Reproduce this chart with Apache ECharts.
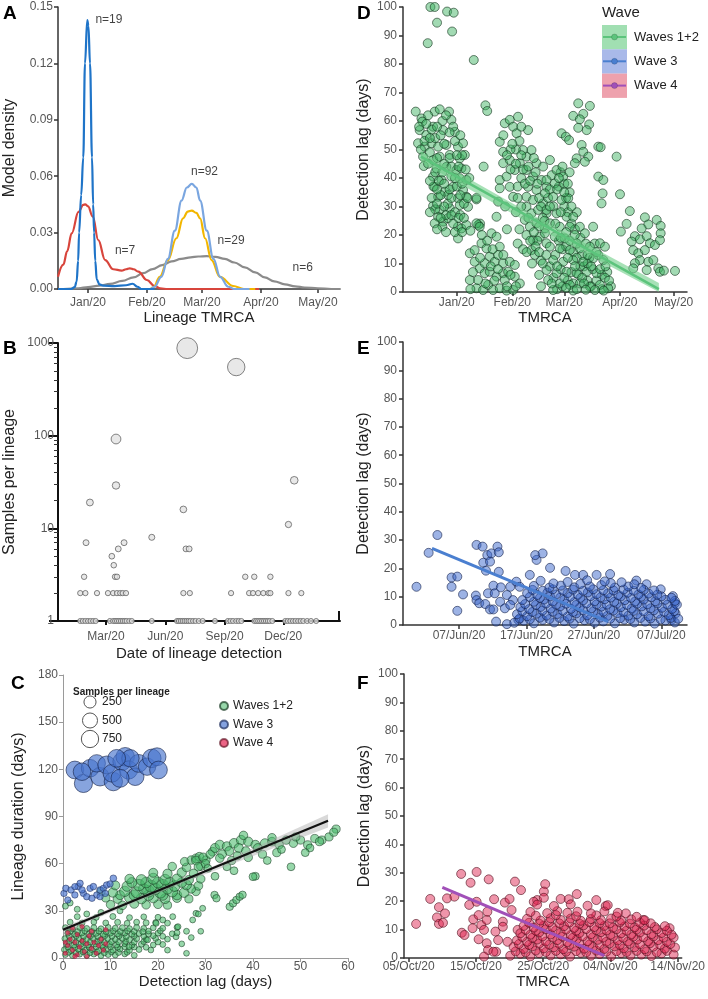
<!DOCTYPE html>
<html><head><meta charset="utf-8">
<script src="https://cdn.jsdelivr.net/npm/echarts@6/dist/echarts.min.js"></script>
<style>html,body{margin:0;padding:0;background:#fff}#c{width:708px;height:999px}</style>
</head><body><div id="c"></div>
<script>
const FONT = 'Liberation Sans, Arial, Helvetica, sans-serif';

// ---------------- Panel A : model density vs lineage TMRCA (days since 1 Jan 2020)
const densTickDays = [0, 31, 60, 91, 121];
const densTickLabels = ['Jan/20', 'Feb/20', 'Mar/20', 'Apr/20', 'May/20'];
const densBlue = [[-15.8,0],[-9,0],[-7,0.001],[-6,0.004],[-5.2,0.015],[-4.7,0.03],[-3.6,0.05],[-2.5,0.07],[-1.6,0.12],[-0.4,0.143],[0.2,0.14],[1.05,0.12],[2.1,0.07],[2.7,0.045],[3.2,0.03],[3.8,0.015],[4.6,0.005],[6,0.0025],[8,0.0018],[14,0.0015],[20,0.002],[23.5,0.0028],[26,0.0012],[28,0],[35,0]];
const densRed = [[-15.8,0.0065],[-13,0.013],[-11,0.02],[-8.6,0.0296],[-5,0.041],[-2.5,0.0448],[-1.5,0.045],[0,0.044],[2.5,0.0385],[5.4,0.026],[9,0.0154],[13.3,0.0105],[17.7,0.0098],[20,0.0105],[22,0.011],[24,0.0105],[26.5,0.0092],[31,0.0048],[35,0.0016],[38,0.0003],[42,0],[90,0]];
const densYellow = [[33,0],[34.5,0.001],[37.8,0.0065],[42,0.0154],[46.5,0.027],[50,0.0376],[52.5,0.0412],[54.6,0.0417],[57,0.0405],[59,0.0376],[61.6,0.027],[65,0.0154],[69.4,0.0065],[76.4,0.0016],[82,0],[88,0]];
const densLightBlue = [[33,0],[35,0.0012],[38.6,0.0065],[42,0.016],[45.7,0.031],[49.2,0.047],[52,0.054],[54.6,0.0559],[57,0.054],[59,0.047],[62.5,0.031],[66,0.016],[69.5,0.0065],[73.8,0.0012],[77,0],[85,0]];
const densGray = [[-13,0],[-5,0.0004],[0,0.001],[6,0.0018],[11.6,0.0027],[18,0.0043],[23.9,0.0062],[29,0.0084],[34,0.0106],[39,0.0127],[44,0.0147],[49,0.016],[54,0.0168],[58,0.0173],[62.5,0.0175],[67,0.0171],[72,0.016],[77,0.0141],[82.5,0.0115],[88,0.0088],[93,0.0062],[98,0.0041],[103.6,0.0025],[109,0.0014],[114,0.0008],[121,0.0003],[128,0],[132.6,0]];
const densNotes = [[11,0.1435,'n=19'],[61.3,0.0624,'n=92'],[19.5,0.0204,'n=7'],[75.3,0.0257,'n=29'],[113,0.0112,'n=6']];

// ---------------- Panel B : samples per lineage vs date of detection (days since 1 Jan 2020)
const detTickDays = [60, 152, 244, 335];
const detTickLabels = ['Mar/20', 'Jun/20', 'Sep/20', 'Dec/20'];
const detAxisEnd = 423;
const sampleTicks = [1, 10, 100, 1000];
const sampleMinorTicks = [2,3,4,5,6,7,8,9,20,30,40,50,60,70,80,90,200,300,400,500,600,700,800,900];
const lineageDetect = [
 [186,880],[262,550],[75.5,92],[75.5,29],[35,19],[29,7],[26,3],[20,2],[28,2],[46,2],
 [20,1],[24,1],[28,1],[32,1],[36,1],[40,1],[44,1],
 [69,5],[72,4],[74,3],[77,3],[79,6],[88,7],[63,2],[71,2],[77,2],[82,2],[86,2],[91,2],
 [66,1],[71,1],[74,1],[77,1],[80,1],[83,1],[86,1],[89,1],[92,1],[96,1],[100,1],
 [131,8],[131,1],
 [180,16],[184,6],[189,6],[180,2],[190,2],
 [170,1],[173,1],[176,1],[179,1],[182,1],[185,1],[188,1],[191,1],[195,1],[199,1],[204,1],[210,1],[229,1],
 [254,2],[249,1],[253,1],[257,1],[262,1],[266,1],[270,1],
 [276,3],[290,3],[315,3],[282,2],[288,2],[296,2],[304,2],[312,2],[315,2],
 [290,1],[293,1],[296,1],[299,1],[302,1],[305,1],[308,1],[311,1],[314,1],[318,1],
 [352,33],[343,11],[343,2],[363,2],
 [338,1],[342,1],[346,1],[350,1],[354,1],[358,1],[362,1],[366,1],[372,1],[378,1],[386,1]
];

// ---------------- Panel C : lineage duration vs detection lag  [lag, duration, samples]
const lagDurW12 = [
 [0.5,2.2,4],[2,1.6,5],[3.5,2.4,3],[5,1.8,6],[6.5,2.5,4],[8,1.5,3],[9.5,2.2,5],[11,1.9,4],[13,2.6,3],[15,1.7,4],
 [1.2,3.6,4],[2.7,3.3,5],[4.2,3.9,3],[5.7,3.4,4],[7.2,3.7,5],[8.7,3.3,4],[10.2,3.8,3],[11.7,3.5,4],[13.5,3.6,3],
 [0.3,5.3,4],[1.7,4.8,6],[3.2,5.6,3],[4.6,4.9,5],[6,5.4,4],[7.5,4.7,6],[9,5.5,3],[10.5,5,4],[12,5.7,5],[14,4.8,3],[16,5.4,4],[18.5,5.1,3],
 [1,7,4],[2.5,6.8,5],[4,7.3,3],[5.5,6.9,4],[7,7.2,5],[8.5,6.7,4],[10,7.1,3],[11.5,6.9,4],[13,7.2,5],[15,7,4],[17.5,6.8,3],
 [0.8,8.8,5],[2.3,8.2,4],[3.8,9,6],[5.3,8.3,4],[6.8,8.9,3],[8.3,8.1,5],[9.8,8.7,4],[11.3,8.4,6],[13,9.1,3],[14.5,8.2,4],[16.5,8.8,5],[19,8.3,3],[21,8.6,4],
 [1.2,10.4,4],[2.7,10.1,5],[4.2,10.6,3],[5.7,10.2,4],[7.2,10.5,5],[8.7,10,4],[10.2,10.4,3],[11.7,10.2,4],[13.2,10.6,5],[15,10.1,4],[17,10.4,3],[20,10.2,4],
 [0.4,12.3,4],[1.9,11.7,5],[3.4,12.5,3],[4.9,11.8,6],[6.4,12.2,4],[7.9,11.6,5],[9.4,12.4,3],[11,11.9,4],[12.5,12.6,6],[14,11.7,4],[15.5,12.3,5],[17.5,11.8,3],[19.5,12.5,4],[22,12,3],
 [1.3,13.9,4],[2.8,14.2,5],[4.3,13.7,3],[5.8,14.1,4],[7.3,13.8,5],[8.8,14.2,4],[10.3,13.9,3],[11.8,14.1,4],[13.3,13.7,5],[15,14.1,4],[17,13.9,3],[19,14.2,4],[21,13.8,3],
 [1,15.8,5],[2.5,15.2,4],[4,15.9,3],[5.5,15.3,6],[7,15.7,4],[8.5,15.1,5],[10,15.8,3],[11.5,15.4,4],[13,15.9,5],[14.5,15.2,3],[16,15.6,4],[18,15.3,5],[20,15.8,3],[23,15.4,4],
 [1.6,17.2,4],[3.1,16.8,5],[4.6,17.3,3],[6.1,16.9,4],[7.6,17.1,5],[9.1,16.7,4],[10.6,17.2,3],[12.1,16.9,4],[13.6,17.3,5],[15,16.9,4],[18,17.1,3],[20.5,17.3,4],
 [0.5,19.3,4],[2,18.7,5],[3.5,19.4,3],[5,18.8,4],[6.5,19.2,6],[8,18.6,4],[9.5,19.5,3],[11,18.9,5],[12.5,19.3,4],[14,18.7,3],[15.5,19.4,5],[17,18.8,4],[19,19.2,3],[21,18.9,4],[24,19.5,3],
 [1.5,22.8,4],[4,22.2,5],[6.5,22.9,3],[9,22.3,4],[11.5,22.7,5],[13.5,22.1,3],[15.5,22.8,4],[17.5,22.4,5],[19.5,22.6,3],[22,22.2,4],
 [3,26.3,4],[7,25.8,3],[10.5,26.4,5],[14,25.7,4],[17,26.2,3],[20,25.9,4],
 [13.9,7.2,4],[16.8,16.7,5],[17.8,11.5,4],[19.6,22.1,6],[21,24.2,5],[23.1,26.3,4],[23.8,13.5,4],[24.2,19.9,5],[27.3,24.2,4],[28,28.4,5],[29.4,31.6,5],[27,13,3],[25,9,3],[22,5,3],[29,17,3],[26,3,3],[0.5,33,6],[1.5,35,5],[3,31,5],[24,16,4],[26,17,4],[28.5,28,4],[5,28,4],[8,29,4],[12,30,5],
 [10,34,60],[12.5,33.5,70],[15,34.5,80],[17.5,33.8,60],[20,34.2,70],[22,33.6,50],
 [9,38.2,50],[11.5,37.6,80],[14,38.4,120],[16.5,37.8,150],[19,38.3,130],[21.5,37.7,110],[24,38.2,80],[26.5,37.6,50],
 [12,40,80],[15,40,140],[18,40,160],[21,40,140],[24,40,100],
 [8,42.3,60],[10.5,41.6,90],[13,42.4,140],[15.5,41.8,180],[18,42.5,220],[20.5,41.7,200],[23,42.2,160],[25.5,41.6,110],[28,42.3,60],
 [17,44,150],[19.5,44,180],[22,44,150],[27,44,70],
 [11,46.2,80],[13.5,45.6,130],[16,46.4,200],[18.5,45.7,240],[21,46.3,220],[23.5,45.8,170],[26,46.5,120],[28.5,45.9,70],
 [14.5,48,120],[17.5,48,160],[20,48,180],[22.5,48,150],[25,48,110],
 [14,50.3,90],[16.5,49.7,150],[19,50.4,180],[21.5,49.8,160],[24,50.2,130],[26.5,49.6,90],[29,50.3,60],
 [19,54.2,80],[22,53.6,90],[25,54.4,90],[27.5,53.8,70],[23,58.2,60],[26,57.6,70],[29,58.3,60],
 [25.6,61.3,60],[27,62.3,60],[28,63.4,70],[28.7,64.4,70],[30.1,62.3,60],[31.5,67.6,70],[32,52,40],[31.9,40.1,30],[32.3,38,30],
 [28,62,70],[29.5,64,70],[31,66,60],[28.5,58,60],[30,60,60],[32,70,80],[33,72,90],[34.5,71,90],[36,73,100],[37.5,75,100],[39,74,90],[40.5,72,80],[35,68,80],[33.5,66,70],[37,70,80],[38.5,68,70],[41,70,70],[42.5,73,80],[44,74,70],[45.5,72,60],[47,75,60],[48.5,73,60],[50,75,50],[51.5,72,50],[53,76,50],[54.5,75,50],[56,77,50],[57.5,82,50],[57,80,50],[52,70,40],[51,67,40],[48,58,40],[40.5,52,40],[35.5,62,50],[39,64,60],[42,66,50],[45,67,50],[43,62,40],[36,55.5,40],[34.5,58,40],[30.5,57,40],[33,63.5,60],[38,78,60],[44,76.5,60],[49,77,50],[54,74,50],[46,69,40],[36.7,65,50],
 [35.1,32.6,30],[35.8,34.8,30],[36.5,36.9,30],[37.2,39,30],[37.8,40.2,30],[40,51.7,40]
];
const lagDurW3 = [[0.2,41.1,10],[0.6,44.3,12],[1,36.9,9],[1.7,43.3,11],[2.5,40.1,10],[3.2,45.4,12],[3.6,47.5,10],[4.3,41.1,9],[5,39,11],[5.7,44.3,10],[6.4,45.4,12],[7.1,40.1,9],[7.8,43.3,11],[8.5,44.3,10],[9.2,46.4,12],[9.9,47.1,10],[10.6,50.7,14],[7.8,39,9],[6.1,38,10],[2.5,45.4,9],[4,43.3,11],[8.9,41.1,10]];
const lagDurW3big = [[2.5,119.6,800],[4.3,111,850],[5.7,120.7,780],[7.8,115.3,900],[7.1,123.8,760],[9.2,122.8,820],[10.6,112.2,880],[10.3,117.5,800],[12.4,124.9,840],[13.1,128,900],[13.8,119.6,860],[15.2,115.3,780],[15.9,123.8,820],[17.7,121.7,760],[18.7,127,900],[19.8,128,820],[20.1,119.6,800],[12,114.3,840],[4,118.5,780],[14.2,127,760],[11.3,127,800]];
const lagDurW4 = [[0.5,3,2],[1,8,2],[1.5,12,2],[2,5,2],[2.5,10,2],[3,15,2],[3,2,2],[3.5,7,2],[4,11,2],[4.5,4,2],[5,9,2],[5.5,14,2],[6,6,2],[6.5,10,2],[7,3,2],[7.5,8,2],[8,12,2],[8.5,5,2],[9,18,2],[1,16,2],[2,19,2],[4,20,2],[6,17,2],[9,9,2],[0.5,10,2],[2.5,1,2],[5,1,2]];
const fitC = [[0, 18], [55.8, 87.3]];
const ciUpperC = [[0, 19.5], [28, 53.5], [55.8, 91.5]];
const ciLowerC = [[0, 16.5], [28, 51], [55.8, 83]];
const sizeLegendValues = [250, 500, 750];
const waveNames = ['Waves 1+2', 'Wave 3', 'Wave 4'];

// ---------------- Panel D : detection lag vs TMRCA, waves 1+2 (days since 1 Jan 2020)
const tmrcaTickD = [0, 31, 60, 91, 121];
const tmrcaLabelsD = ['Jan/20', 'Feb/20', 'Mar/20', 'Apr/20', 'May/20'];
const lagW12 = [
 [-22.9,63.3],[-19.7,60.9],[-19.2,59.8],[-12.3,63.3],[-9.5,64.1],[-4.3,63.3],[-3,60.4],[-20.7,56.8],[-17,55.1],[-13.2,58],[-7.6,56.8],[-1.1,56.2],[-21.6,52.2],[-17.9,51],[-14.1,52.2],[-10.4,51],[-5.8,51.6],[0.7,51],[3.5,52.2],[-18.8,47.5],[-13.2,46.3],[-9.5,47.5],[-3.9,48.1],[1.7,46.9],[4.5,48.1],[-18.4,44.2],[-11.3,43.4],[-5.8,43.9],[-0.2,42.8],[2.6,43.4],[-13.2,40.5],[-8.5,39.3],[-3,40.5],[1.7,39.9],[5.4,39.3],[-12.3,36.9],[-6.7,35.2],[-2.1,36.9],[3.5,35.8],[-10.4,33.4],[-4.9,34],[0.7,32.9],[5.4,33.4],[-13.2,30.2],[-9.5,28.8],[-3.9,29.4],[1.7,30.5],[6.3,29.9],[-10.4,26.4],[-7.6,24.7],[-4.9,25.9],[0.7,22.9],[2.6,22.3],[5.4,23.5],[0.7,18.8],[-12.3,24.1],
 [-16,62],[-14,57],[-12,54],[-8,60],[-6,62],[-2,58],[-18,53],[-15,49],[-11,47],[-7,45],[-3,44],[1,44],[3,48],[-20,50],[-13,37],[-9,34],[-5,31],[-1,28],[-10,39],[-6,27],[-2,24],[2,27],[4,31],[-14,33],[-8,23],[-4,36],[0,37],[5,43],[-12,29],[7,40],[6,33],
 [-21,58],[-17,59],[-15,54],[-11,58],[-9,55],[-7,52],[-4,56],[-1,53],[2,55],[-16,45],[-12,42],[-8,42],[-4,47],[0,48],[-15,39],[-11,36],[-7,38],[-1,40],[3,38],[-15,28],[-11,31],[-7,30],[-3,33],[2,34],[-9,26],[-3,27],[1,26],[4,26],[-11,22],[-6,21],[-1,21],[3,21],
 [-14.7,100],[-12.3,100],[-11,94.5],[-16.2,87.3],[-5.4,98.4],[-1.7,98],[-2.6,91.4],[9.5,81.4],[15,44],[16,65.5],[17,63.5],[11,32.5],[13,24],[12,23.5],[7.6,21.5],
 [11,24.1],[12.8,22.9],[7.3,13.6],[10,14.7],[13.8,17.1],[16.6,15.3],[19.4,20.6],[22.2,19.4],[24,15.9],[18.4,12.4],[21.2,10.6],[25.9,10.1],[29.6,10.6],[32.4,9.5],[12.8,8.3],[15.6,6.6],[18.4,7.1],[22.2,5.4],[25.9,6.6],[28.7,7.1],[32.4,5.4],[35.2,3],[11,1.3],[14.7,0.7],[17.5,2.5],[20.3,0.7],[24,1.3],[27.8,0.5],[31.5,0.7],[10,10.6],[11.9,4.2],[23.1,13],[26.8,4.2],[15.6,10.1],[7.3,4.2],[7.6,1],
 [9,7],[13,12],[16,3],[19,9],[21,4],[23,8],[26,13],[28,2],[30,6],[33,2],[14,20],[17,18],[20,15],
 [24,52.7],[25.9,49.2],[26.8,59.2],[29.6,60.4],[34.2,61.5],[31.5,58],[33.4,55.7],[39.8,56.8],[25.9,45.2],[29.6,46.3],[24,39.3],[27.8,40.5],[32.4,42.8],[24,36.4],[29.6,36.9],[23.1,31.7],[31.5,33.4],[35.2,45.2],[38.9,47.5],[37,49.8],[41.7,49.8],[44.5,45.2],[48.2,44],[38.9,42.8],[42.6,40.5],[47.3,39.3],[39.8,36.9],[44.5,35.8],[50.1,36.9],[38.9,33.4],[42.6,32.3],[48.2,31.1],[38.9,29.9],[41.7,27.6],[45.4,28.8],[50.1,27.6],[38,25.3],[40.8,22.9],[44.5,24.1],[49.2,22.3],[38.9,20],[42.6,18.2],[46.4,19.4],[41.7,14.7],[43.6,13],[50.1,17.1],[22.2,26.4],[11,33],
 [33,50],[35,53],[36,40],[34,37],[36,30],[33,28],[35,22],[34,17],[37,15],[36,58],[30,50],[27,30],[28,22],
 [26,55],[28,48],[30,43],[31,52],[33,45],[34,33],[36,48],[37,43],[38,38],[40,44],[41,39],[43,47],[44,42],[45,38],[46,33],[47,30],[48,26],[46,23],[45,18],[43,21],[41,18],[40,26],[39,14],[42,10],[44,16],[46,14],[47,11],[49,25],[51,33],[52,36],[54,30],[53,41],[57,37],[58,42],[60,38],[61,33],[60,30],[63,35],[62,28],[64,24],[66,22],[67,28],[69,19],[70,13],[72,17],[74,12],[76,8],[77,17],[79,13],[81,6],[69,9],[64,7],[58,8],[54,5],[56,1],[59,2],[62,4],[65,3],[68,6],[73,4],[75,2],[78,4],[81,1],[84,7],[86,2],[52,9],[55,13],[57,18],[59,15],[61,16],[63,18],[65,14],[67,12],[71,9],[73,10],
 [52,46.3],[55.7,42.8],[50.1,39.3],[54.7,38.1],[59.4,40.5],[49.2,34.6],[53.8,33.4],[58.5,32.3],[62.2,32.9],[50.1,28.8],[55.7,27.6],[61.3,26.4],[65,26.4],[52,24.1],[57.5,22.9],[63.1,22.9],[68.7,22.9],[49.2,20.6],[54.7,19.4],[60.3,18.8],[65.9,20],[71.5,20.6],[76.1,22.9],[52,15.9],[57.5,15.3],[63.1,14.7],[68.7,15.3],[74.3,15.9],[79.9,17.1],[82.7,15.9],[53.8,11.2],[59.4,10.6],[65,11.2],[70.6,10.6],[76.1,11.8],[81.8,11.2],[50.1,7.7],[55.7,6.6],[61.3,7.1],[66.9,6.6],[72.5,7.1],[78,6.6],[82.7,5],[57.5,3],[63.1,2.5],[68.7,3],[74.3,1.9],[79.9,2.5],[84.5,1.3],[53.8,0.7],[65,0.5],[77.1,0.7],[51,4.2],[48,10],[46,6],[47,2],[50,13],[53,3],
 [56,36],[60,35],[52,30],[58,28],[64,30],[55,24],[61,21],[67,17],[58,19],[62,12],[56,9],[66,9],[60,5],[70,5],[73,13],[71,3],[75,9],[80,8],[78,14],[85,4],[83,9],[59,44],[57,40],[62,38],[63,42],[61,1.5],[67,1],[72,0.8],[82,0.5],
 [67.8,66.2],[74.3,65.3],[65,61.8],[70.6,62.5],[68.7,60.6],[73.9,58.8],[72.5,56.8],[67.8,57.6],[58.5,55.7],[60.9,54.5],[62.7,53.3],[69.7,51.6],[79,51],[80.3,50.8],[70.6,49.2],[73.4,47.5],[66.9,46.9],[65.9,45.2],[71.5,45.7],[89.2,47.5],[79,40.5],[81.8,39.3],[81.4,34.6],[80.8,31.1],[91.1,34.3],
 [96.6,28.4],[94.8,23.9],[91.6,21.2],[105,26.2],[111.6,25.3],[106.9,23.7],[113.8,23.2],[103.2,22.3],[99.4,19.6],[102.2,18.5],[106,19.6],[113.8,20.6],[97.6,17.7],[107.8,17.1],[110.6,16.5],[113.4,18.2],[98.5,14.7],[101.3,13.6],[105,14.7],[102.2,11.2],[99.4,10.1],[106.9,10.6],[98.5,8.3],[106,7.7],[112.5,8.3],[113.4,7.1],[115.6,7.5],[121.8,7.4],[109.7,11.2]
];
const fitD = [[-20, 47.5], [112.8, 1]];
const ciUpperD = [[-20, 49.3], [46, 25.8], [112.8, 3.2]];
const ciLowerD = [[-20, 45.7], [46, 22.2], [112.8, 0]];

// ---------------- Panel E : wave 3 (days since 7 Jun 2020)
const tmrcaTickE = [0, 10, 20, 30];
const tmrcaLabelsE = ['07/Jun/20', '17/Jun/20', '27/Jun/20', '07/Jul/20'];
const lagW3 = [
 [-6.3,13.5],[-4.5,25.5],[-3.2,31.8],[-1.1,16.8],[-0.25,17.1],[-1.1,13.5],[0.6,10.8],[-0.25,5],[2.6,28.3],[3.5,27.7],[2.5,10.4],[2.6,8.8],[3,7.7],[3.9,7.4],[4.3,11.2],[4.6,5.5],[5.1,5.5],[4.2,24.7],[4.8,25.3],[3.6,22],[4.6,22.4],[5.7,27.7],[5.9,25.7],[4,19.2],[5.9,18.8],[5.1,13.9],[6.2,13.3],[5.3,11.2],[6.1,8.2],[6.8,5.9],[5.5,1.2],[7.6,13.5],[7.1,10.6],[11.5,23],[11.3,24.7],[12.4,25.3],[10.5,17.7],[13.5,20.2],[15.8,19.1],[8.5,15.3],[9,13.5],[8,8.8],[7.6,7.1],[8.8,1.8],[7.1,0.3],[17.2,17.7],[18.4,17.7],[20.4,17.7],[22.4,18],[26.3,15.7],[27.8,14.4],[29.9,12.6],[31.7,10.2],[32,7.7],[32.1,4.1],[31.5,1.8],
 [8.2,0.8],[9.6,1.5],[11.1,0.6],[12.4,1.8],[14.1,0.9],[15.6,1.4],[17,0.5],[18.6,1.7],[20.1,0.8],[21.4,1.3],[23.1,0.6],[24.5,1.9],[26,0.9],[27.6,1.2],[29,0.5],[30.6,1.6],[32,0.9],
 [9,2.3],[10.5,2],[12,2.6],[13.4,2.1],[14.9,2.5],[16.4,2.2],[17.9,2.4],[19.4,2],[20.9,2.6],[22.4,2.2],[23.9,2.4],[25.4,2.1],[26.9,2.5],[28.4,2.3],[29.9,2],[31.4,2.5],[32.5,2.2],
 [8.6,3.8],[10.1,3.1],[11.5,4],[13,3.3],[14.6,3.9],[16.1,3],[17.4,4.1],[19,3.4],[20.6,3.9],[22,3.2],[23.5,4.2],[25.1,3.3],[26.4,3.8],[28.1,3.1],[29.5,4],[31.1,3.5],
 [9.4,4.9],[10.9,4.6],[12.4,5.1],[13.9,4.7],[15.4,5],[16.9,4.6],[18.4,5.2],[19.9,4.8],[21.4,4.7],[22.9,5.1],[24.4,4.6],[25.9,5],[27.4,4.8],[28.9,5.2],[30.4,4.7],[31.9,4.9],
 [9.1,6.3],[10.4,5.6],[12.1,6.4],[13.6,5.8],[15,6.6],[16.6,5.7],[17.9,6.2],[19.6,5.9],[21.1,6.5],[22.4,5.6],[24,6.3],[25.6,5.8],[27.1,6.6],[28.4,5.9],[30.1,6.1],[31.6,5.7],
 [9.8,7.4],[11.4,7.1],[12.9,7.6],[14.4,7.2],[15.9,7.5],[17.4,7.1],[18.9,7.6],[20.4,7.3],[21.9,7.2],[23.4,7.6],[24.9,7.1],[26.4,7.5],[27.9,7.3],[29.4,7.6],[30.9,7.2],[32.3,7.2],
 [9.4,8.8],[11.1,8.2],[12.6,9],[13.9,8.3],[15.6,8.9],[17.1,8.1],[18.4,8.7],[20.1,8.4],[21.6,9.1],[23,8.2],[24.6,8.8],[26.1,8.3],[27.4,9],[29.1,8.4],[30.6,8.9],[32,8.5],
 [10.5,9.9],[12,9.6],[13.5,10.1],[15,9.7],[16.5,10],[18,9.6],[19.5,10.2],[21,9.8],[22.5,9.7],[24,10.1],[25.5,9.6],[27,10],[28.5,9.8],[30,10.1],[31.5,9.6],
 [10.1,11.2],[11.6,10.6],[13.1,11.4],[14.4,10.8],[16.1,11.3],[17.6,10.7],[19.1,11.5],[20.4,10.9],[22.1,11.2],[23.6,10.6],[25,11.4],[26.6,10.8],[28.1,11.1],[29.4,10.7],
 [10.9,12.4],[12.4,12.1],[13.9,12.6],[15.4,12.2],[16.9,12.5],[18.4,12.1],[19.9,12.6],[21.4,12.3],[22.9,12.2],[24.4,12.5],[25.9,12.1],[27.4,12.4],[28.9,12.2],
 [11.1,13.8],[13.4,13.2],[15.1,13.9],[17.1,13.3],[19.4,13.6],[21.1,14.1],[23.1,13.2],[25.1,13.6],[27,13.1],
 [14,14.7],[18,14.5],[22.5,14.8],[26,14.4],
 [12.1,15.6],[16.1,15.2],[19,15.8],[21.6,15.4],[24.1,15.1]
];
const fitE = [[-4, 27.1], [22.1, 1.2]];

// ---------------- Panel F : wave 4 (days since 5 Oct 2020)
const tmrcaTickF = [0, 10, 20, 30, 40];
const tmrcaLabelsF = ['05/Oct/20', '15/Oct/20', '25/Oct/20', '04/Nov/20', '14/Nov/20'];
const lagW4 = [
 [1.1,12],[3.2,20.8],[4.2,14.3],[4.5,17.9],[4.5,12],[5.1,12.4],[5.4,15.7],[5.7,21],[6.8,21.6],[7.8,29.6],[7.9,8.9],[8.3,8.1],[9.2,26.5],[9,18.7],[10.1,30.3],[10.1,19.8],[9.6,13.6],[9.5,10.5],[10.4,15.1],[10.4,6.6],[10.8,11.6],[11.2,9.9],[11.6,13.4],[11.7,16.3],[11.9,27.7],[11.6,5.2],[11.8,2.8],[11.2,0.5],[12.7,20.7],[12.9,9.3],[13.3,6.3],[13,2.2],[12.6,2.2],[14.3,19.5],[14,12.8],[14,11],[14.7,5.7],[15,20.8],[15.8,26.9],[16.7,23.9],[15.3,16.9],[16.2,9.9],[20.3,26],[20.1,23.4],[23.8,20.7],[25,22.5],[19.1,20.4],[18.6,19.8],[27.9,20.4],[29.3,18.3],[32.3,15.7],[34.9,13.4],[38.8,10.5],
 [15.1,0.8],[16.6,1.5],[18.1,0.6],[19.4,1.7],[21.1,0.9],[22.6,1.3],[24,0.5],[25.6,1.8],[27.1,0.8],[28.4,1.4],[30.1,0.6],[31.6,1.7],[33,0.9],[34.6,1.2],[36.1,0.7],[37.6,1.6],
 [15.9,2.3],[17.4,2],[18.9,2.6],[20.4,2.1],[21.9,2.5],[23.4,2.2],[24.9,2.4],[26.4,2],[27.9,2.6],[29.4,2.2],[30.9,2.4],[32.4,2.1],[33.9,2.5],[35.4,2.3],[36.9,2],[38.4,2.5],[39.4,1.2],
 [15.6,3.9],[17.1,3.2],[18.4,4.1],[20.1,3.4],[21.6,3.8],[23,3.1],[24.6,4],[26.1,3.3],[27.4,3.9],[29.1,3.2],[30.6,4.1],[32,3.4],[33.6,3.8],[35.1,3.1],[36.4,4],[38.1,3.3],[39.6,3.7],
 [16.4,4.9],[17.9,4.6],[19.4,5.1],[20.9,4.7],[22.4,5],[23.9,4.6],[25.4,5.2],[26.9,4.8],[28.4,4.7],[29.9,5.1],[31.4,4.6],[32.9,5],[34.4,4.8],[35.9,5.2],[37.4,4.7],[38.9,4.9],
 [16.1,6.2],[17.6,5.7],[19.1,6.5],[20.4,5.8],[22.1,6.3],[23.6,5.6],[25,6.6],[26.6,5.9],[28.1,6.4],[29.4,5.7],[31.1,6.2],[32.6,5.8],[34,6.5],[35.6,5.9],[37.1,6.3],[38.4,5.7],
 [16.9,7.4],[18.4,7.1],[19.9,7.6],[21.4,7.2],[22.9,7.5],[24.4,7.1],[25.9,7.6],[27.4,7.3],[28.9,7.2],[30.4,7.6],[31.9,7.1],[33.4,7.5],[34.9,7.3],[36.4,7.6],[37.9,7.2],[39.4,7.2],
 [16.6,8.7],[18.1,8.2],[19.4,9],[21.1,8.3],[22.6,8.9],[24.1,8.1],[25.4,8.8],[27.1,8.4],[28.6,9.1],[30,8.2],[31.6,8.7],[33.1,8.3],[34.4,9],[36.1,8.4],[37.6,8.8],[39.1,8.2],
 [17.4,9.9],[18.9,9.6],[20.4,10.1],[21.9,9.7],[23.4,10],[24.9,9.6],[26.4,10.2],[27.9,9.8],[29.4,9.7],[30.9,10.1],[32.4,9.6],[33.9,10],[35.4,9.8],[36.9,10.1],[38.4,9.6],
 [17.1,11.3],[18.6,10.7],[20.1,11.4],[21.4,10.8],[23.1,11.2],[24.6,10.6],[26,11.5],[27.6,10.9],[29.1,11.3],[30.4,10.7],[32.1,11.1],[33.6,10.8],[35,11.4],[36.6,10.9],[38.1,11.2],
 [17.9,12.4],[19.4,12.1],[20.9,12.6],[22.4,12.2],[23.9,12.5],[25.4,12.1],[26.9,12.6],[28.4,12.3],[29.9,12.2],[31.4,12.5],[32.9,12.1],[34.4,12.4],[36,12.2],
 [17.6,13.8],[19.6,13.2],[21.1,14],[22.6,13.4],[24.1,13.9],[25.6,13.1],[27.1,13.7],[28.6,13.3],[30.1,13.9],[31.6,13.2],[33.1,13.6],[35.1,13.3],
 [18.9,14.9],[21.9,15.1],[24.9,14.7],[27.9,15],[30.9,14.6],[33.9,14.5],
 [18.1,16.2],[20.6,15.8],[22.1,16.5],[23.6,15.9],[25.1,16.3],[27.1,15.7],[29.1,16.4],[31.1,15.9],
 [19.1,18.8],[21.6,18.3],[24.1,18.9],[26.6,18.4],[29.6,18.6],[20.1,21.2],[22.6,20.8]
];
const fitF = [[5, 24.9], [29.1, 0.8]];

// =====================================================================
const chart = echarts.init(document.getElementById('c'), null, {renderer: 'canvas'});

const DARK = {color: '#333', width: 1.5};
const BLACK = {color: '#111', width: 2};
const GREY = {color: '#9a9a9a', width: 1};

function xCustom(gridIndex, min, max, ticks, labels, name, gap, margin, st) {
  const map = {};
  ticks.forEach((t, i) => { map[t] = labels[i]; });
  return {
    type: 'value', gridIndex, min, max,
    name, nameLocation: 'middle', nameGap: gap,
    nameTextStyle: {color: '#222', fontSize: 15, fontFamily: FONT},
    axisLine: {show: true, onZero: false, lineStyle: {color: st.color, width: st.width}},
    axisTick: {show: true, customValues: ticks, length: 4, lineStyle: {color: st.color, width: st.width}},
    axisLabel: {show: true, customValues: ticks, formatter: v => (map[v] !== undefined ? map[v] : ''), color: '#555', fontSize: 12, fontFamily: FONT, margin},
    splitLine: {show: false}
  };
}
function valAxis(gridIndex, min, max, interval, name, gap, margin, st, fmt, nameSize) {
  return {
    type: 'value', gridIndex, min, max, interval,
    name, nameLocation: 'middle', nameGap: gap,
    nameTextStyle: {color: '#222', fontSize: nameSize || 16, fontFamily: FONT},
    axisLine: {show: true, onZero: false, lineStyle: {color: st.color, width: st.width}},
    axisTick: {show: true, length: 4, lineStyle: {color: st.color, width: st.width}},
    axisLabel: {show: true, color: '#555', fontSize: 12, fontFamily: FONT, margin, formatter: fmt},
    splitLine: {show: false}
  };
}

function bandSeries(xi, yi, upper, lower, fill) {
  return {
    type: 'custom', xAxisIndex: xi, yAxisIndex: yi, silent: true, z: 3,
    data: [upper[0]],
    renderItem: function (params, api) {
      const pts = upper.map(p => api.coord(p)).concat(lower.slice().reverse().map(p => api.coord(p)));
      return {type: 'polygon', shape: {points: pts}, style: {fill: fill}};
    }
  };
}

const sizeC = n => 5 + 0.45 * Math.sqrt(n);
const sizeB = n => 4.5 + 0.55 * Math.sqrt(n);

const grids = [
  {left: 58, top: 7, width: 282, height: 282},     // A
  {left: 58, top: 343, width: 282, height: 278},   // B
  {left: 63, top: 675, width: 285, height: 283},   // C
  {left: 403, top: 7, width: 284, height: 285},    // D
  {left: 403, top: 342, width: 284, height: 283},  // E
  {left: 404, top: 674, width: 283, height: 284}   // F
];

const xAxes = [
  xCustom(0, -15.8, 132.6, densTickDays, densTickLabels, 'Lineage TMRCA', 21, 8, DARK),
  xCustom(1, -14.5, detAxisEnd, detTickDays, detTickLabels, 'Date of lineage detection', 25, 10, BLACK),
  valAxis(2, 0, 60, 10, 'Detection lag (days)', 14, 3, GREY, undefined, 15),
  xCustom(3, -30, 128.5, tmrcaTickD, tmrcaLabelsD, 'TMRCA', 18, 5, DARK),
  xCustom(4, -8.3, 33.8, tmrcaTickE, tmrcaLabelsE, 'TMRCA', 19, 5, DARK),
  xCustom(5, -0.7, 40.6, tmrcaTickF, tmrcaLabelsF, 'TMRCA', 14, 3, DARK)
];

const yB = {
  type: 'log', gridIndex: 1, min: 1, max: 1000, logBase: 10,
  name: 'Samples per lineage', nameLocation: 'middle', nameGap: 40,
  nameTextStyle: {color: '#222', fontSize: 16, fontFamily: FONT},
  axisLine: {show: true, onZero: false, lineStyle: {color: '#111', width: 2}},
  axisTick: {show: true, customValues: sampleTicks, length: 9, lineStyle: {color: '#111', width: 2}},
  axisLabel: {show: true, customValues: sampleTicks, formatter: v => String(Math.round(v)), color: '#555', fontSize: 12, fontFamily: FONT, margin: 4},
  splitLine: {show: false}
};
const yBminor = {
  type: 'log', gridIndex: 1, min: 1, max: 1000, logBase: 10, position: 'left',
  axisLine: {show: false, onZero: false},
  axisTick: {show: true, customValues: sampleMinorTicks, length: 4, lineStyle: {color: '#333', width: 1}},
  axisLabel: {show: false},
  splitLine: {show: false}
};

const yAxes = [
  valAxis(0, 0, 0.15, 0.03, 'Model density', 40, 5, DARK, v => v.toFixed(2)),
  yB,
  valAxis(2, 0, 180, 30, 'Lineage duration (days)', 36, 5, GREY),
  valAxis(3, 0, 100, 10, 'Detection lag (days)', 31, 6, DARK),
  valAxis(4, 0, 100, 10, 'Detection lag (days)', 31, 6, DARK),
  valAxis(5, 0, 100, 10, 'Detection lag (days)', 31, 6, DARK),
  yBminor
];

function densLine(data, color, z) {
  return {type: 'line', xAxisIndex: 0, yAxisIndex: 0, data, symbol: 'none', smooth: 0.4, smoothMonotone: 'x',
    lineStyle: {color, width: 2.2}, z: z || 2, silent: true};
}

const greenFill = 'rgba(60,178,96,0.6)', greenEdge = 'rgba(20,52,30,0.85)';
const blueFill = 'rgba(50,96,200,0.6)', blueEdge = 'rgba(20,32,76,0.85)';
const redFill = 'rgba(222,34,78,0.6)', redEdge = 'rgba(80,14,30,0.85)';
const PT = 9;

const series = [
  // A
  densLine(densGray, '#8b8b8b', 2),
  densLine(densRed, '#d8453c', 3),
  densLine(densYellow, '#f2b600', 3),
  densLine(densLightBlue, '#7aa6e0', 4),
  densLine(densBlue, '#1f74c8', 5),
  {type: 'scatter', xAxisIndex: 0, yAxisIndex: 0, data: densNotes, symbolSize: 0, silent: true,
    label: {show: true, position: 'inside', formatter: p => p.data[2], color: '#111', fontSize: 12, fontFamily: FONT}},
  // B
  {type: 'scatter', xAxisIndex: 1, yAxisIndex: 1, data: lineageDetect, symbolSize: v => sizeB(v[1]),
    itemStyle: {color: '#e2e2e2', borderColor: '#555', borderWidth: 0.9}, silent: true},
  { // upward end tick closing panel B's date axis
    type: 'custom', xAxisIndex: 1, yAxisIndex: 1, silent: true, clip: false, z: 10,
    data: [[detAxisEnd, 1]],
    renderItem: function (params, api) {
      const p0 = api.coord([detAxisEnd, 1]);
      const p1 = api.coord([detAxisEnd, 1.28]);
      return {type: 'line', shape: {x1: p0[0] - 1, y1: p0[1] + 1, x2: p1[0] - 1, y2: p1[1]}, style: {stroke: '#111', lineWidth: 2}};
    }
  },
  // C
  {name: 'Waves 1+2', type: 'scatter', xAxisIndex: 2, yAxisIndex: 2, data: lagDurW12, symbolSize: v => sizeC(v[2]),
    itemStyle: {color: 'rgba(70,184,104,0.7)', borderColor: 'rgba(22,56,32,0.85)', borderWidth: 0.8}, z: 2},
  {name: 'Wave 3', type: 'scatter', xAxisIndex: 2, yAxisIndex: 2, data: lagDurW3, symbolSize: v => sizeC(v[2]),
    itemStyle: {color: 'rgba(76,118,208,0.85)', borderColor: 'rgba(30,44,90,0.85)', borderWidth: 0.8}, z: 3},
  {name: 'Wave 3', type: 'scatter', xAxisIndex: 2, yAxisIndex: 2, data: lagDurW3big, symbolSize: v => sizeC(v[2]),
    itemStyle: {color: 'rgba(72,116,204,0.82)', borderColor: 'rgba(20,32,70,0.85)', borderWidth: 0.9}, z: 3},
  {name: 'Wave 4', type: 'scatter', xAxisIndex: 2, yAxisIndex: 2, data: lagDurW4, symbolSize: 4.5,
    itemStyle: {color: 'rgba(228,40,86,0.9)', borderColor: 'rgba(90,16,32,0.8)', borderWidth: 0.5}, z: 4},
  bandSeries(2, 2, ciUpperC, ciLowerC, 'rgba(170,170,170,0.45)'),
  {type: 'line', xAxisIndex: 2, yAxisIndex: 2, data: fitC, symbol: 'none', lineStyle: {color: '#111', width: 2.2}, z: 6, silent: true},
  // D
  {name: 'D Waves 1+2', type: 'scatter', xAxisIndex: 3, yAxisIndex: 3, data: lagW12, symbolSize: PT,
    itemStyle: {color: greenFill, borderColor: greenEdge, borderWidth: 0.9}, silent: true},
  bandSeries(3, 3, ciUpperD, ciLowerD, 'rgba(110,205,135,0.6)'),
  {type: 'line', xAxisIndex: 3, yAxisIndex: 3, data: fitD, symbol: 'none', lineStyle: {color: '#5cc47c', width: 2.5}, z: 6, silent: true},
  // E
  {name: 'E Wave 3', type: 'scatter', xAxisIndex: 4, yAxisIndex: 4, data: lagW3, symbolSize: PT,
    itemStyle: {color: blueFill, borderColor: blueEdge, borderWidth: 0.9}, silent: true},
  {type: 'line', xAxisIndex: 4, yAxisIndex: 4, data: fitE, symbol: 'none', lineStyle: {color: '#4a7fd0', width: 3}, z: 6, silent: true},
  // F
  {name: 'F Wave 4', type: 'scatter', xAxisIndex: 5, yAxisIndex: 5, data: lagW4, symbolSize: PT,
    itemStyle: {color: redFill, borderColor: redEdge, borderWidth: 0.9}, silent: true},
  {type: 'line', xAxisIndex: 5, yAxisIndex: 5, data: fitF, symbol: 'none', lineStyle: {color: '#a150b8', width: 3}, z: 6, silent: true}
];

// graphic: panel letters, C size legend, D colour legend
const graphic = [];
[['A', 3, 4], ['B', 3, 339], ['C', 11, 674], ['D', 357, 4], ['E', 357, 339], ['F', 357, 674]].forEach(l => {
  graphic.push({type: 'text', x: l[1], y: l[2], style: {text: l[0], fill: '#000', font: 'bold 19px ' + FONT}});
});
graphic.push({type: 'text', x: 73, y: 692, style: {text: 'Samples per lineage', fill: '#222', font: 'bold 10px ' + FONT, verticalAlign: 'middle'}});
sizeLegendValues.forEach((v, i) => {
  const cy = 702 + i * 18.5;
  graphic.push({type: 'circle', shape: {cx: 90, cy, r: sizeC(v) / 2}, style: {fill: 'none', stroke: '#555', lineWidth: 1}});
  graphic.push({type: 'text', x: 102, y: cy, style: {text: String(v), fill: '#222', font: '12px ' + FONT, verticalAlign: 'middle'}});
});
const legBand = ['rgba(130,212,152,0.75)', 'rgba(140,162,225,0.75)', 'rgba(232,130,146,0.75)'];
const legLine = ['#5cc47c', '#4a7fd0', '#a150b8'];
graphic.push({type: 'text', x: 602, y: 13, style: {text: 'Wave', fill: '#222', font: '15px ' + FONT, verticalAlign: 'middle'}});
waveNames.forEach((n, i) => {
  const top = 25 + i * 24.3, cy = top + 12;
  graphic.push({type: 'rect', shape: {x: 602, y: top, width: 25, height: 24.3}, style: {fill: legBand[i]}});
  graphic.push({type: 'line', shape: {x1: 603, y1: cy, x2: 626, y2: cy}, style: {stroke: legLine[i], lineWidth: 2}});
  graphic.push({type: 'circle', shape: {cx: 614.5, cy, r: 3}, style: {fill: legLine[i], stroke: 'rgba(0,0,0,0.3)', lineWidth: 0.5}});
  graphic.push({type: 'text', x: 634, y: cy, style: {text: n, fill: '#222', font: '13px ' + FONT, verticalAlign: 'middle'}});
});

chart.setOption({
  animation: false,
  backgroundColor: '#fff',
  grid: grids,
  xAxis: xAxes,
  yAxis: yAxes,
  legend: {
    data: waveNames, left: 214, top: 694, orient: 'vertical', itemGap: 4.5, itemWidth: 8, itemHeight: 8,
    icon: 'circle', selectedMode: false, textStyle: {color: '#222', fontSize: 12, fontFamily: FONT, lineHeight: 14}
  },
  series,
  graphic
});
</script></body></html>
